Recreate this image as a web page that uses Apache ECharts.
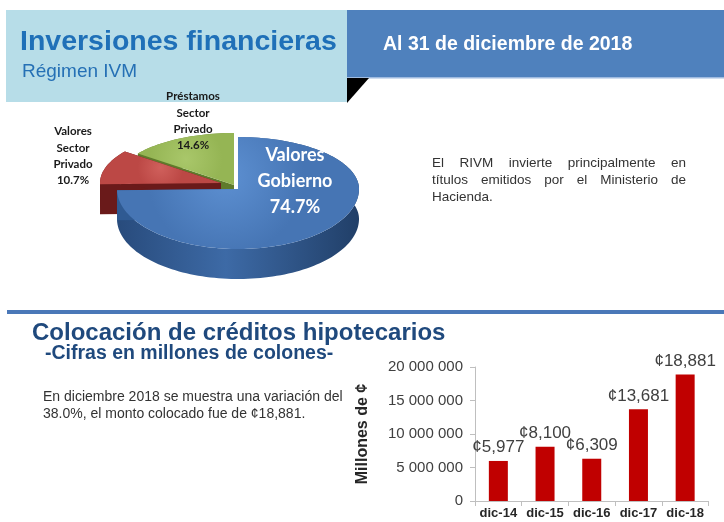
<!DOCTYPE html>
<html><head><meta charset="utf-8">
<script src="https://cdn.jsdelivr.net/npm/echarts@6/dist/echarts.min.js"></script>
<style>html,body{margin:0;padding:0;background:#fff}#c{width:724px;height:522px}</style>
</head><body><div id="c"></div>
<script>
// ---- data ----
const pieNames = ['Valores Gobierno', 'Valores Sector Privado', 'Préstamos Sector Privado'];
const pieValues = [74.7, 10.7, 14.6];
const barCategories = ['dic-14', 'dic-15', 'dic-16', 'dic-17', 'dic-18'];
const barValues = [5977000, 8100000, 6309000, 13681000, 18881000];
const yAxisMax = 20000000;
const yAxisStep = 5000000;

// ---- texts ----
const titleTop = 'Inversiones financieras';
const subTop = 'Régimen IVM';
const dateText = 'Al 31 de diciembre de 2018';
const noteTop = ['El RIVM invierte principalmente en', 'títulos emitidos  por el Ministerio de', 'Hacienda.'];
const titleBottom = 'Colocación de créditos hipotecarios';
const subBottom = '-Cifras en millones de colones-';
const noteBottom = ['En diciembre 2018 se muestra una variación del', '38.0%, el monto colocado fue de ¢18,881.'];
const yName = 'Millones de ¢';

// ---- pie layout (3D look) ----
const PIE = {cx: 238, cy: 189, rx: 121, ryB: 52, ryF: 60, depth: 30};
const pieOffsets = [[0, 0], [-17, -6], [-4, -4]];
const pieZ = [30, 20, 10];
const pieLabelPos = [[295, 181], [73, 156], [193, 121]];
const pieStyles = [
  {top: {type:'radial', x:0.45, y:0.35, r:0.7, colorStops:[{offset:0,color:'#5d90d2'},{offset:1,color:'#4675b4'}]},
   side: {type:'linear', x:0, y:0, x2:1, y2:0, colorStops:[{offset:0,color:'#284b7c'},{offset:0.45,color:'#3d6aa6'},{offset:1,color:'#213f68'}]},
   cut: '#2f5a92', label: '#ffffff', font: 'bold 18px Lato', lh: 26},
  {top: {type:'radial', x:0.5, y:0.5, r:0.7, colorStops:[{offset:0,color:'#d0605c'},{offset:1,color:'#bc4845'}]},
   side: '#6e1d1d', cut: '#6a1a1a', label: '#1a1a1a', font: 'bold 11.5px Lato', lh: 16.3},
  {top: {type:'radial', x:0.5, y:0.5, r:0.7, colorStops:[{offset:0,color:'#a9c76a'},{offset:1,color:'#95b554'}]},
   side: '#6b8732', cut: '#5f7a2b', label: '#1a1a1a', font: 'bold 11.5px Lato', lh: 16.3}
];
const pieTotal = pieValues.reduce((a, b) => a + b, 0);
const pieStarts = [];
(function(){ let acc = 0; pieValues.forEach(v => { pieStarts.push(acc / pieTotal * 360); acc += v; }); })();

function ept(theta, off) {
  const t = theta * Math.PI / 180, c = Math.cos(t);
  return [PIE.cx + off[0] + PIE.rx * Math.sin(t), PIE.cy + off[1] - (c > 0 ? PIE.ryB : PIE.ryF) * c];
}

function renderSlice(params, api) {
  const i = params.dataIndex;
  const v = api.value(0);
  const a0 = pieStarts[i], a1 = a0 + v / pieTotal * 360;
  const off = pieOffsets[i];
  const apex = [PIE.cx + off[0], PIE.cy + off[1]];
  const n = Math.max(10, Math.ceil((a1 - a0) / 2));
  const arc = [];
  for (let k = 0; k <= n; k++) arc.push(ept(a0 + (a1 - a0) * k / n, off));
  const d = PIE.depth;
  const down = p => [p[0], p[1] + d];
  const wall = arc.concat(arc.slice().reverse().map(down));
  const r0 = [apex, arc[0], down(arc[0]), down(apex)];
  const r1 = [apex, arc[n], down(arc[n]), down(apex)];
  const top = [apex].concat(arc);
  const st = pieStyles[i], zb = pieZ[i];
  const label = pieNames[i].split(' ').join('\n') + '\n' + v.toFixed(1) + '%';
  return {type: 'group', children: [
    {type: 'polygon', shape: {points: wall}, style: {fill: st.side}, z2: zb},
    {type: 'polygon', shape: {points: r0}, style: {fill: st.cut}, z2: zb + 1},
    {type: 'polygon', shape: {points: r1}, style: {fill: st.cut}, z2: zb + 1},
    {type: 'polygon', shape: {points: top}, style: {fill: st.top}, z2: zb + 2},
    {type: 'text', x: pieLabelPos[i][0], y: pieLabelPos[i][1], z2: 100,
     style: {text: label, fill: st.label, font: st.font, lineHeight: st.lh, align: 'center', verticalAlign: 'middle'}}
  ]};
}

// ---- justified paragraph ----
const mctx = document.createElement('canvas').getContext('2d');
function justified(lines, x0, x1, y0, lh, font, color) {
  mctx.font = font;
  const out = [];
  lines.forEach((line, li) => {
    const y = y0 + li * lh;
    const words = line.split(/\s+/);
    if (li === lines.length - 1 || words.length < 2) {
      out.push({type: 'text', x: x0, y: y, style: {text: line, font: font, fill: color, verticalAlign: 'middle'}});
      return;
    }
    const ws = words.map(w => mctx.measureText(w).width);
    const gap = (x1 - x0 - ws.reduce((a, b) => a + b, 0)) / (words.length - 1);
    let x = x0;
    words.forEach((w, k) => {
      out.push({type: 'text', x: x, y: y, style: {text: w, font: font, fill: color, verticalAlign: 'middle'}});
      x += ws[k] + gap;
    });
  });
  return out;
}

const F = '"Liberation Sans", Arial, sans-serif';
const graphics = [
  {type: 'rect', shape: {x: 6, y: 10, width: 342, height: 92}, style: {fill: '#b7dde8'}},
  {type: 'rect', shape: {x: 347, y: 10, width: 377, height: 68}, style: {fill: '#4f81bd'}},
  {type: 'rect', shape: {x: 347, y: 77, width: 377, height: 1.5}, style: {fill: '#9fbbe0'}},
  {type: 'polygon', shape: {points: [[347, 78], [369, 78], [347, 103]]}, style: {fill: '#000'}},
  {type: 'text', x: 20, y: 42, style: {text: titleTop, font: 'bold 28.5px ' + F, fill: '#1f70b8', verticalAlign: 'middle'}},
  {type: 'text', x: 22, y: 72, style: {text: subTop, font: '19px ' + F, fill: '#2570b5', verticalAlign: 'middle'}},
  {type: 'text', x: 383, y: 45, style: {text: dateText, font: 'bold 19.5px ' + F, fill: '#ffffff', verticalAlign: 'middle'}},
  {type: 'rect', shape: {x: 7, y: 310, width: 717, height: 4}, style: {fill: '#4a78b8'}},
  {type: 'text', x: 32, y: 333, style: {text: titleBottom, font: 'bold 24px ' + F, fill: '#1f497d', verticalAlign: 'middle'}},
  {type: 'text', x: 45, y: 354, style: {text: subBottom, font: 'bold 19.5px ' + F, fill: '#1f497d', verticalAlign: 'middle'}},
  {type: 'text', x: 43, y: 388, style: {text: noteBottom.join('\n'), font: '14px ' + F, lineHeight: 17.5, fill: '#333333', verticalAlign: 'top'}}
].concat(justified(noteTop, 432, 686, 163, 17, '13.5px ' + F, '#333333'));

const chart = echarts.init(document.getElementById('c'), null, {renderer: 'canvas'});
chart.setOption({
  animation: false,
  backgroundColor: '#ffffff',
  graphic: graphics,
  grid: {left: 475, top: 367, width: 233.5, height: 134},
  xAxis: {
    type: 'category', data: barCategories,
    axisLine: {lineStyle: {color: '#bfbfbf'}},
    axisTick: {show: true, length: 5, lineStyle: {color: '#bfbfbf'}},
    axisLabel: {interval: 0, color: '#262626', fontWeight: 'bold', fontSize: 13, fontFamily: 'Liberation Sans', margin: 6}
  },
  yAxis: {
    type: 'value', min: 0, max: yAxisMax, interval: yAxisStep,
    splitLine: {show: false},
    axisLine: {show: true, lineStyle: {color: '#bfbfbf'}},
    axisTick: {show: true, length: 5, lineStyle: {color: '#bfbfbf'}},
    axisLabel: {color: '#404040', fontSize: 15, fontFamily: 'Liberation Sans', margin: 12,
      formatter: v => v.toLocaleString('en-US').replace(/,/g, ' ')},
    name: yName, nameLocation: 'middle', nameGap: 104,
    nameTextStyle: {fontWeight: 'bold', fontSize: 16, color: '#262626', fontFamily: 'Liberation Sans'}
  },
  series: [
    {type: 'bar', data: barValues, barWidth: 19, itemStyle: {color: '#c00000'},
     label: {show: true, position: 'top', distance: 5, fontSize: 17, color: '#404040', fontFamily: 'Liberation Sans',
       formatter: p => '¢' + (p.value / 1000).toLocaleString('en-US')}},
    {type: 'custom', coordinateSystem: 'none', renderItem: renderSlice,
     data: pieValues.map((v, i) => [v, i]), z: 3}
  ]
});
</script>
</body></html>
